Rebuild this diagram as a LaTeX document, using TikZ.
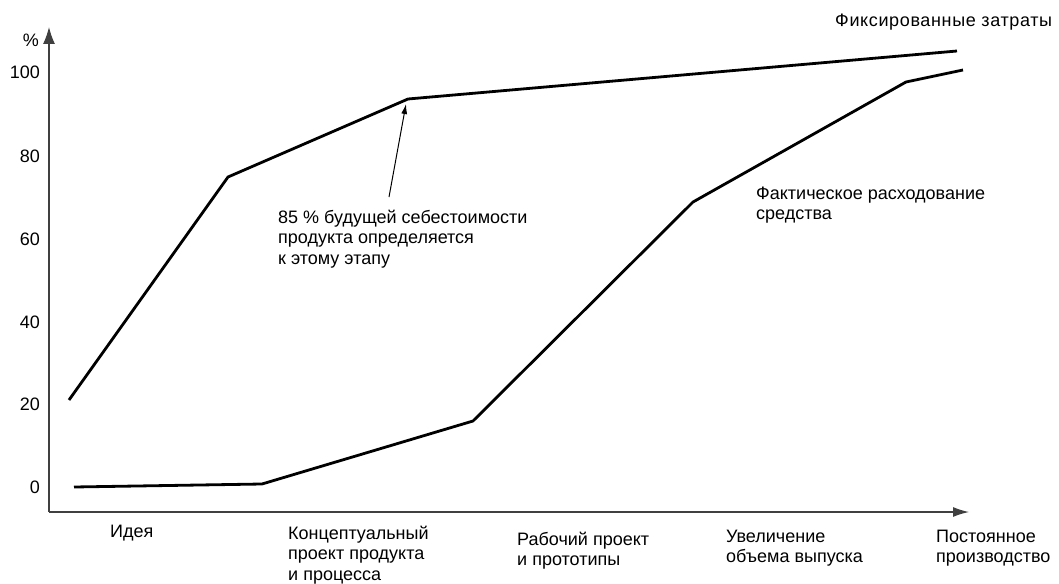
\documentclass[tikz,border=0pt]{standalone}
\usepackage{fontspec}
\setmainfont{Liberation Sans}
\usetikzlibrary{arrows.meta}
\begin{document}
\begin{tikzpicture}[x=1pt,y=-1pt,
  axisline/.style={line width=1.3pt,draw=black!75},
  curve/.style={line width=2.8pt,line join=miter,black},
  lbl/.style={inner sep=0pt,anchor=base west,align=left,font=\fontsize{18}{20.5}\selectfont},
  tick/.style={inner sep=0pt,anchor=base east,font=\fontsize{18}{20.5}\selectfont}]
\useasboundingbox (0,0) rectangle (1059,583);
% axes
\coordinate (O) at (49,512);
\coordinate (ytop) at (49,27);
\coordinate (xend) at (969,512);
\draw[axisline,-{Latex[length=17pt,width=12pt]}] (O) -- (ytop);
\draw[axisline,-{Latex[length=16pt,width=10pt]}] (O) -- (xend);
% y ticks
\node[tick] (pct) at (39,47) {\%};
\node[tick] (t100) at (40,79) {100};
\node[tick] (t80) at (40,162) {80};
\node[tick] (t60) at (40,245) {60};
\node[tick] (t40) at (40,328) {40};
\node[tick] (t20) at (40,410) {20};
\node[tick] (t0) at (40,493) {0};
% fixed cost curve
\coordinate (f1) at (69,400);
\coordinate (f2) at (228,177);
\coordinate (f3) at (408,99);
\coordinate (f4) at (957,51);
\draw[curve] (f1) -- (f2) -- (f3) -- (f4);
% actual spending curve
\coordinate (a1) at (74,487);
\coordinate (a2) at (262,484);
\coordinate (a3) at (473,421);
\coordinate (a4) at (693,202);
\coordinate (a5) at (906,82);
\coordinate (a6) at (963,70);
\draw[curve] (a1) -- (a2) -- (a3) -- (a4) -- (a5) -- (a6);
% labels (anchor = baseline of last line)
\node[lbl] (fixed) at (835,27) {\addfontfeature{LetterSpace=3.5}Фиксированные затраты};
\node[lbl] (actual) at (756,219.5) {Фактическое расходование\\средства};
\node[lbl] (note) at (278,264) {85 \% будущей себестоимости\\продукта определяется\\к этому этапу};
\coordinate (ntail) at (389,197);
\coordinate (nhead) at (406,104);
\draw[line width=1pt,-{Latex[length=10pt,width=6pt]}] (ntail) -- (nhead);
% x labels
\node[lbl] (s1) at (110,537) {Идея};
\node[lbl] (s2) at (288,580) {Концептуальный\\проект продукта\\и процесса};
\node[lbl] (s3) at (517,565.5) {Рабочий проект\\и прототипы};
\node[lbl] (s4) at (726,562.5) {Увеличение\\объема выпуска};
\node[lbl] (s5) at (936,562.5) {Постоянное\\производство};
\end{tikzpicture}
\end{document}
